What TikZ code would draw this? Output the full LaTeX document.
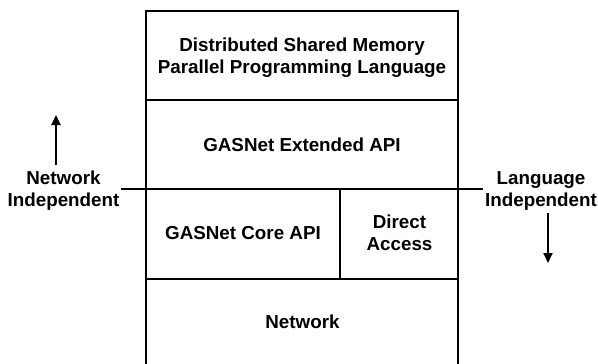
\documentclass[tikz,border=0pt]{standalone}
\usepackage{fontspec}
\setmainfont{Liberation Sans}
\usetikzlibrary{arrows.meta}
\begin{document}
\begin{tikzpicture}[x=1pt,y=-1pt,
  lbl/.style={font=\bfseries\fontsize{18.8}{21.6}\selectfont, align=center, inner sep=0pt},
  frame/.style={line width=2pt},
  ext/.style={line width=1.5pt},
  dirarrow/.style={line width=2pt,-{Triangle[length=10pt,width=9pt]}}]
\useasboundingbox (0,0) rectangle (598,364);
% layer frame
\draw[frame] (146,372) -- (146,11) -- (458,11) -- (458,372);
\draw[frame] (146,100) -- (458,100);
\draw[frame] (146,189) -- (458,189);
\draw[frame] (146,279) -- (458,279);
\draw[frame] (340,189) -- (340,279);
\draw[ext] (121,189) -- (146,189);
\draw[ext] (458,189) -- (483,189);
% labels
\node[lbl] (dsm) at (302,57.7) {Distributed Shared Memory\\Parallel Programming Language};
\node[lbl] (extapi) at (302,145) {GASNet Extended API};
\node[lbl] (core) at (243,233.3) {GASNet Core API};
\node[lbl] (direct) at (399.5,233) {Direct\\Access};
\node[lbl] (net) at (302.5,322) {Network};
\node[lbl] (netind) at (63.5,190.7) {Network\\Independent};
\node[lbl] (langind) at (541,191) {Language\\Independent};
% arrows
\coordinate (la) at (56,165);
\coordinate (lb) at (56,115);
\coordinate (ra) at (548,213);
\coordinate (rb) at (548,263);
\draw[dirarrow] (la) -- (lb);
\draw[dirarrow] (ra) -- (rb);
\end{tikzpicture}
\end{document}
